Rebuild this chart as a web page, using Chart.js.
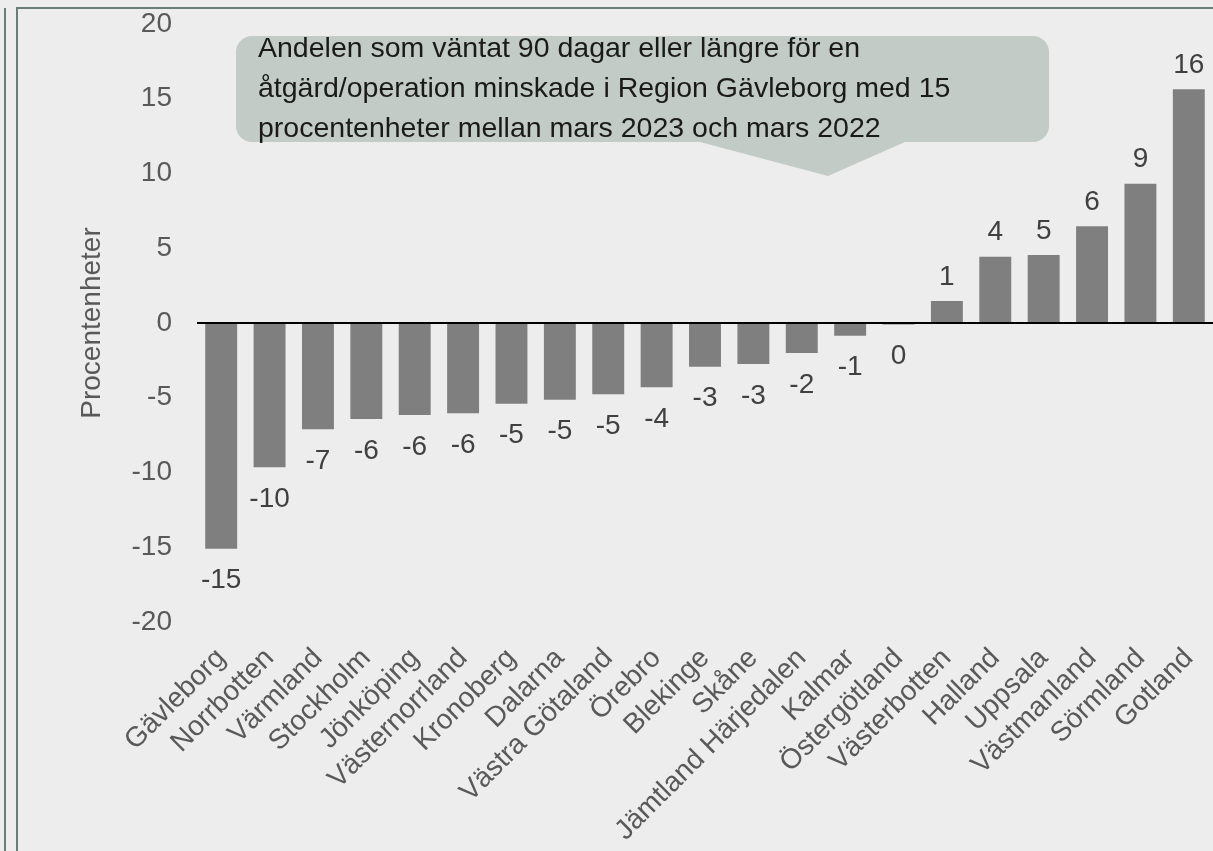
<!DOCTYPE html>
<html>
<head>
<meta charset="utf-8">
<script src="https://cdn.jsdelivr.net/npm/chart.js@4/dist/chart.umd.min.js"></script>
<style>
  html, body { margin: 0; padding: 0; background: #ededed; }
  #wrap { width: 1213px; height: 851px; position: relative; }
</style>
</head>
<body>
<div id="wrap"><canvas id="bar-chart"></canvas></div>
<script>
// regions sorted by change (procentenheter), mars 2022 -> mars 2023
const regions = [
  "Gävleborg", "Norrbotten", "Värmland", "Stockholm", "Jönköping",
  "Västernorrland", "Kronoberg", "Dalarna", "Västra Götaland", "Örebro",
  "Blekinge", "Skåne", "Jämtland Härjedalen", "Kalmar", "Östergötland",
  "Västerbotten", "Halland", "Uppsala", "Västmanland", "Sörmland", "Gotland"
];
const changes = [
  -15.1, -9.65, -7.1, -6.42, -6.15,
  -6.04, -5.4, -5.13, -4.77, -4.3,
  -2.92, -2.74, -2.0, -0.85, -0.1,
  1.47, 4.43, 4.55, 6.47, 9.32, 15.63
];
const yTicks = [-20, -15, -10, -5, 0, 5, 10, 15, 20];
const yTitle = "Procentenheter";
const noteLines = [
  "Andelen som väntat 90 dagar eller längre för en",
  "åtgärd/operation minskade i Region Gävleborg med 15",
  "procentenheter mellan mars 2023 och mars 2022"
];

const FONT = '"Liberation Sans", Arial, sans-serif';

// background + the frame lines of the slide
const framePlugin = {
  id: 'frame',
  beforeDraw(chart) {
    const ctx = chart.ctx;
    ctx.save();
    ctx.fillStyle = '#ededed';
    ctx.fillRect(0, 0, chart.width, chart.height);
    ctx.strokeStyle = '#6b7d76';
    ctx.lineWidth = 2;
    ctx.beginPath();
    ctx.moveTo(5, 8); ctx.lineTo(5, chart.height);
    ctx.moveTo(17, chart.height); ctx.lineTo(17, 8); ctx.lineTo(chart.width, 8);
    ctx.stroke();
    ctx.restore();
  }
};

// value labels above / below the bars
const valueLabels = {
  id: 'valueLabels',
  afterDatasetsDraw(chart) {
    const ctx = chart.ctx;
    const meta = chart.getDatasetMeta(0);
    ctx.save();
    ctx.font = '28px ' + FONT;
    ctx.fillStyle = '#404040';
    ctx.textAlign = 'center';
    ctx.textBaseline = 'middle';
    meta.data.forEach((bar, i) => {
      const v = changes[i];
      const txt = String(Math.round(v));
      const y = v > 0 ? bar.y - 24 : Math.max(bar.y, bar.base) + 32;
      ctx.fillText(txt, bar.x, y);
    });
    ctx.restore();
  }
};

// speech bubble with the comment
const callout = {
  id: 'callout',
  afterDraw(chart) {
    const ctx = chart.ctx;
    const x0 = 236, y0 = 36, x1 = 1049, y1 = 142, r = 16;
    ctx.save();
    ctx.fillStyle = '#c2cbc6';
    ctx.beginPath();
    ctx.moveTo(x0 + r, y0);
    ctx.lineTo(x1 - r, y0);
    ctx.arcTo(x1, y0, x1, y0 + r, r);
    ctx.lineTo(x1, y1 - r);
    ctx.arcTo(x1, y1, x1 - r, y1, r);
    ctx.lineTo(905, y1);
    ctx.lineTo(828, 176);
    ctx.lineTo(700, y1);
    ctx.lineTo(x0 + r, y1);
    ctx.arcTo(x0, y1, x0, y1 - r, r);
    ctx.lineTo(x0, y0 + r);
    ctx.arcTo(x0, y0, x0 + r, y0, r);
    ctx.closePath();
    ctx.fill();
    ctx.font = '28.5px ' + FONT;
    ctx.fillStyle = '#1a1a1a';
    ctx.textAlign = 'left';
    ctx.textBaseline = 'middle';
    noteLines.forEach((line, i) => ctx.fillText(line, 258, 49 + i * 40));
    ctx.restore();
  }
};

new Chart(document.getElementById('bar-chart'), {
  type: 'bar',
  data: {
    labels: regions,
    datasets: [{
      data: changes,
      backgroundColor: '#7f7f7f',
      categoryPercentage: 1,
      barPercentage: 0.66
    }]
  },
  options: {
    responsive: true,
    maintainAspectRatio: false,
    animation: false,
    devicePixelRatio: 1,
    layout: { padding: { top: 24, left: 0, right: 0, bottom: 0 } },
    plugins: {
      legend: { display: false },
      tooltip: { enabled: false }
    },
    scales: {
      x: {
        grid: { display: false },
        border: { display: false },
        ticks: {
          autoSkip: false,
          minRotation: 45,
          maxRotation: 45,
          padding: 12,
          color: '#595959',
          font: { family: FONT, size: 28 }
        },
        afterFit(s) { s.height = 229; s.paddingLeft = 0; s.paddingRight = 0; }
      },
      y: {
        min: -20,
        max: 20,
        z: 1,
        afterBuildTicks(s) { s.ticks = yTicks.map(v => ({ value: v })); },
        grid: {
          drawTicks: false,
          color: c => (c.tick && c.tick.value === 0) ? '#000000' : 'rgba(0,0,0,0)',
          lineWidth: 2
        },
        border: { display: false },
        ticks: {
          padding: 25,
          color: '#595959',
          font: { family: FONT, size: 28 }
        },
        title: {
          display: true,
          text: yTitle,
          color: '#595959',
          font: { family: FONT, size: 28 },
          padding: { top: 75, bottom: 0 }
        },
        afterFit(s) { s.width = 197; s.paddingTop = 0; s.paddingBottom = 0; }
      }
    }
  },
  plugins: [framePlugin, valueLabels, callout]
});
</script>
</body>
</html>
